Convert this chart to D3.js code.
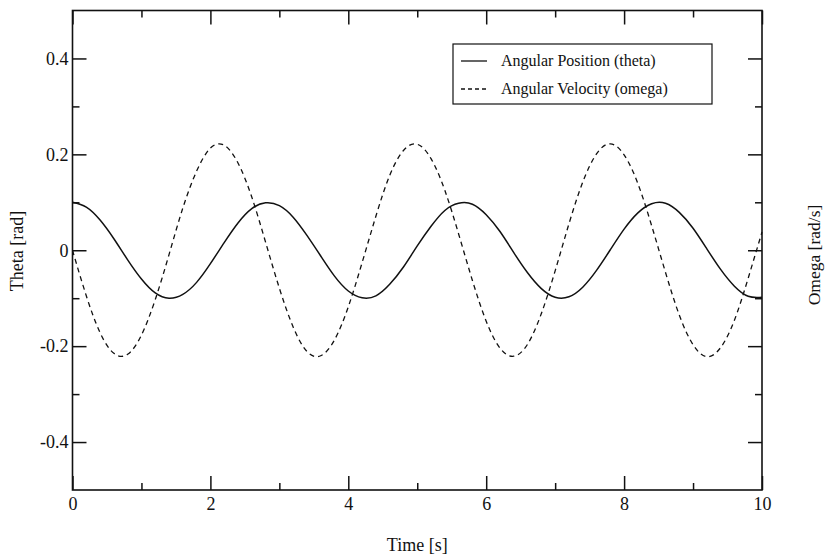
<!DOCTYPE html>
<html>
<head>
<meta charset="utf-8">
<script src="https://cdn.jsdelivr.net/npm/d3@7"></script>
<style>
  body { margin: 0; background: #fff; }
</style>
</head>
<body>
<div id="chart"></div>
<script>
// time samples (s) and values
const timeValues = [0, 0.2, 0.4, 0.6, 0.8, 1.0, 1.2, 1.4, 1.6, 1.8, 2.0, 2.2, 2.4, 2.6, 2.8,
  3.0, 3.2, 3.4, 3.6, 3.8, 4.0, 4.2, 4.4, 4.6, 4.8, 5.0, 5.2, 5.4, 5.6, 5.8,
  6.0, 6.2, 6.4, 6.6, 6.8, 7.0, 7.2, 7.4, 7.6, 7.8, 8.0, 8.2, 8.4, 8.6, 8.8,
  9.0, 9.2, 9.4, 9.6, 9.8, 10.0];
const thetaValues = [0.100, 0.090, 0.063, 0.024, -0.020, -0.060, -0.089, -0.100, -0.092, -0.067, -0.028, 0.016, 0.057, 0.087, 0.099,
  0.093, 0.069, 0.031, -0.012, -0.054, -0.085, -0.099, -0.095, -0.071, -0.035, 0.009, 0.050, 0.083, 0.098, 0.096,
  0.074, 0.039, -0.005, -0.047, -0.080, -0.098, -0.097, -0.077, -0.042, 0.001, 0.044, 0.078, 0.097, 0.098, 0.079,
  0.046, 0.003, -0.040, -0.075, -0.096, -0.098];
const omegaValues = [0, -0.095, -0.172, -0.215, -0.217, -0.177, -0.103, -0.009, 0.088, 0.165, 0.213, 0.219, 0.182, 0.111, 0.017,
  -0.079, -0.160, -0.211, -0.220, -0.187, -0.118, -0.026, 0.071, 0.156, 0.208, 0.221, 0.191, 0.125, 0.034, -0.063,
  -0.148, -0.204, -0.221, -0.196, -0.132, -0.043, 0.055, 0.142, 0.201, 0.222, 0.199, 0.139, 0.051, -0.046, -0.135,
  -0.197, -0.222, -0.203, -0.146, -0.058, 0.038];

const xMajor = [0, 2, 4, 6, 8, 10];
const xMinor = [1, 3, 5, 7, 9];
const yMajor = [-0.4, -0.2, 0, 0.2, 0.4];
const yMinor = [-0.3, -0.1, 0.1, 0.3];
const seriesNames = ['Angular Position (theta)', 'Angular Velocity (omega)'];

const FONT = 'Liberation Serif';
const width = 827, height = 555;
const margin = { left: 72.5, right: 65, top: 10.5, bottom: 65 };
const innerW = width - margin.left - margin.right;
const innerH = height - margin.top - margin.bottom;

const svg = d3.select('#chart')
  .append('svg')
  .attr('width', width)
  .attr('height', height)
  .attr('font-family', FONT);

const g = svg.append('g')
  .attr('transform', `translate(${margin.left},${margin.top})`);

const x = d3.scaleLinear().domain([0, 10]).range([0, innerW]);
const y = d3.scaleLinear().domain([-0.5, 0.5]).range([innerH, 0]);

const fmt = d => d === 0 ? '0' : d.toFixed(1);

// ticks point inward on all four sides
function tickAxis(axisFn, scale, values, size, labels, pad) {
  const a = axisFn(scale).tickValues(values).tickSizeInner(-size).tickSizeOuter(0);
  if (labels) a.tickFormat(labels).tickPadding(pad);
  else a.tickFormat('');
  return a;
}

const axes = [
  [d3.axisBottom, x, xMajor, 14, d => d, 7, `translate(0,${innerH})`],
  [d3.axisBottom, x, xMinor, 7, null, 0, `translate(0,${innerH})`],
  [d3.axisTop, x, xMajor, 14, null, 0, 'translate(0,0)'],
  [d3.axisTop, x, xMinor, 7, null, 0, 'translate(0,0)'],
  [d3.axisLeft, y, yMajor, 14, fmt, 4, 'translate(0,0)'],
  [d3.axisLeft, y, yMinor, 7, null, 0, 'translate(0,0)'],
  [d3.axisRight, y, yMajor, 14, null, 0, `translate(${innerW},0)`],
  [d3.axisRight, y, yMinor, 7, null, 0, `translate(${innerW},0)`]
];
axes.forEach(([fn, sc, vals, size, lab, pad, tr]) => {
  const ax = g.append('g').attr('transform', tr).call(tickAxis(fn, sc, vals, size, lab, pad));
  ax.attr('font-family', FONT).attr('font-size', 18);
  ax.select('.domain').remove();
  ax.selectAll('line').attr('stroke', '#111').attr('stroke-width', 1.5);
  ax.selectAll('text').attr('fill', '#111');
});

g.append('rect')
  .attr('width', innerW)
  .attr('height', innerH)
  .attr('fill', 'none')
  .attr('stroke', '#111')
  .attr('stroke-width', 1.6);

const line = vals => d3.line()
  .x((d, i) => x(timeValues[i]))
  .y(d => y(d))
  .curve(d3.curveNatural)(vals);

g.append('path')
  .attr('d', line(thetaValues))
  .attr('fill', 'none')
  .attr('stroke', '#111')
  .attr('stroke-width', 1.5);

g.append('path')
  .attr('d', line(omegaValues))
  .attr('fill', 'none')
  .attr('stroke', '#111')
  .attr('stroke-width', 1.3)
  .attr('stroke-dasharray', '5,4');

// legend
const lg = svg.append('g');
lg.append('rect')
  .attr('x', 453).attr('y', 44)
  .attr('width', 259).attr('height', 60)
  .attr('fill', '#fff')
  .attr('stroke', '#111')
  .attr('stroke-width', 1.2);
seriesNames.forEach((name, i) => {
  const yy = 61 + i * 28;
  lg.append('line')
    .attr('x1', 461).attr('x2', 487)
    .attr('y1', yy).attr('y2', yy)
    .attr('stroke', '#111')
    .attr('stroke-width', 1.3)
    .attr('stroke-dasharray', i === 0 ? null : '4,3');
  lg.append('text')
    .attr('x', 501).attr('y', yy + 5)
    .attr('font-size', 16)
    .attr('fill', '#111')
    .text(name);
});

// axis titles
svg.append('text')
  .attr('x', margin.left + innerW / 2)
  .attr('y', 551)
  .attr('text-anchor', 'middle')
  .attr('font-size', 18)
  .attr('fill', '#111')
  .text('Time [s]');

svg.append('text')
  .attr('transform', 'translate(23,251) rotate(-90)')
  .attr('text-anchor', 'middle')
  .attr('font-size', 18)
  .attr('fill', '#111')
  .text('Theta [rad]');

svg.append('text')
  .attr('transform', 'translate(820,255) rotate(-90)')
  .attr('text-anchor', 'middle')
  .attr('font-size', 17.5)
  .attr('fill', '#111')
  .text('Omega [rad/s]');
</script>
</body>
</html>
